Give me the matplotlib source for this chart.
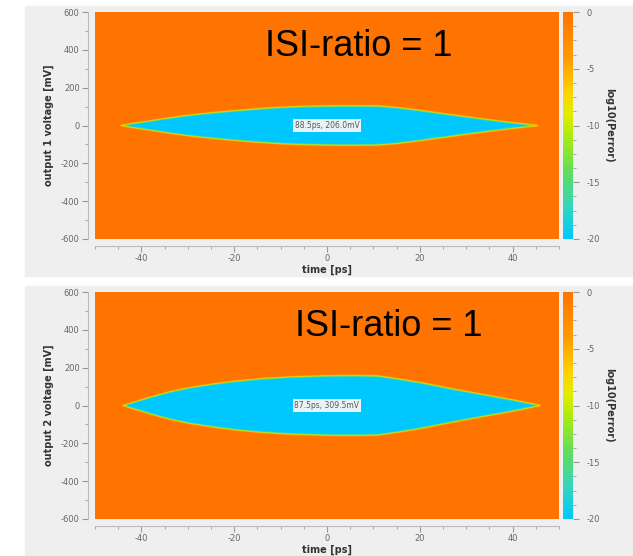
import numpy as np
import matplotlib
matplotlib.use("Agg")
from matplotlib import pyplot as plt
from matplotlib.colors import LinearSegmentedColormap
from matplotlib.patches import Rectangle
from matplotlib.ticker import MultipleLocator

plt.rcParams["axes.unicode_minus"] = False

# eye contours (time [ps] -> half eye opening [mV])
t_eye1 = [-44.5, -42, -38, -34, -29.5, -25, -20, -15, -10, -5, 0, 5, 11, 15, 20, 27, 35, 40, 45.5]
h_eye1 = [0, 10, 25, 40, 55, 67, 78, 88, 96, 101, 103, 104, 103, 95, 80, 56, 30, 15, 0]
t_eye2 = [-44, -42, -38, -34, -29.5, -25, -20, -14, -8, 0, 6, 11, 15, 20, 27, 35, 40, 46]
h_eye2 = [0, 15, 45, 72, 95, 112, 128, 142, 151, 157, 158, 156, 142, 122, 88, 52, 30, 0]
labels = ["88.5ps, 206.0mV", "87.5ps, 309.5mV"]
ylabels = ["output 1 voltage [mV]", "output 2 voltage [mV]"]
title = "ISI-ratio = 1"

W, H = 633, 556
fig = plt.figure(figsize=(W / 100, H / 100), dpi=100)

cmap = LinearSegmentedColormap.from_list("perr", [
    (0.0, "#00C8FF"), (0.15, "#38D6B8"), (0.3, "#62DC5A"), (0.45, "#AAEC12"),
    (0.55, "#E2EC00"), (0.65, "#FFD000"), (0.8, "#FF9A00"), (1.0, "#FF7400")])

tg = np.linspace(-50, 50, 600)
vg = np.linspace(-600, 600, 600)
T, V = np.meshgrid(tg, vg)


def box(x0, y0, x1, y1):
    return [x0 / W, 1 - y1 / H, (x1 - x0) / W, (y1 - y0) / H]


def panel(top, t_eye, h_eye, lab, ylab, title_x):
    bottom = top + 227
    fig.add_artist(Rectangle((25 / W, 1 - (bottom + 37) / H), 1, 270 / H,
                             transform=fig.transFigure, color="#EFEFEF", zorder=-10))
    ax = fig.add_axes(box(95, top, 559, bottom))
    cax = fig.add_axes(box(563, top, 573, bottom))
    h = np.interp(T[0], t_eye, h_eye, left=-30, right=-30)
    d = (h[None, :] - np.abs(V)) * 0.19
    field = -20 * np.clip(0.5 + d / 2.5, 0, 1)
    im = ax.imshow(field, extent=[-50, 50, -600, 600], origin="lower", aspect="auto",
                   cmap=cmap, vmin=-20, vmax=0, interpolation="bilinear")
    ax.set_xlim(-50, 50)
    ax.set_ylim(-600, 600)
    ax.xaxis.set_major_locator(MultipleLocator(20))
    ax.xaxis.set_minor_locator(MultipleLocator(5))
    ax.yaxis.set_major_locator(MultipleLocator(200))
    ax.yaxis.set_minor_locator(MultipleLocator(100))
    for s in ["top", "right"]:
        ax.spines[s].set_visible(False)
    for s in ["left", "bottom"]:
        ax.spines[s].set_position(("outward", 5))
        ax.spines[s].set_color("#BBBBBB")
    ax.tick_params(which="both", colors="#999999", labelcolor="#666666", labelsize=6, pad=2)
    ax.tick_params(which="major", length=4)
    ax.tick_params(which="minor", length=2)
    ax.set_xlabel("time [ps]", fontsize=7, fontweight="bold", color="#333333", labelpad=1)
    ax.set_ylabel(ylab, fontsize=7, fontweight="bold", color="#333333", labelpad=5)
    ax.text(0, 0, lab, fontsize=5.5, ha="center", va="center", color="#555555",
            bbox=dict(facecolor="#EAF4F7", edgecolor="none", pad=1.2))

    cb = fig.colorbar(im, cax=cax, ticks=[0, -5, -10, -15, -20])
    cb.outline.set_visible(False)
    cax.yaxis.set_minor_locator(MultipleLocator(1.25))
    cax.tick_params(which="both", colors="#999999", labelcolor="#666666", labelsize=6, pad=6)
    cax.tick_params(which="major", length=4)
    cax.tick_params(which="minor", length=2)
    cb.set_label("log10(Perror)", rotation=270, fontsize=7, fontweight="bold",
                 color="#333333", labelpad=10)

    fig.text(title_x / W, 1 - (top + 35) / H, title, fontsize=26,
             family="Liberation Sans", va="center", ha="left")


panel(12, t_eye1, h_eye1, labels[0], ylabels[0], 265)
panel(292, t_eye2, h_eye2, labels[1], ylabels[1], 295)

fig.savefig("out.png", dpi=100)
